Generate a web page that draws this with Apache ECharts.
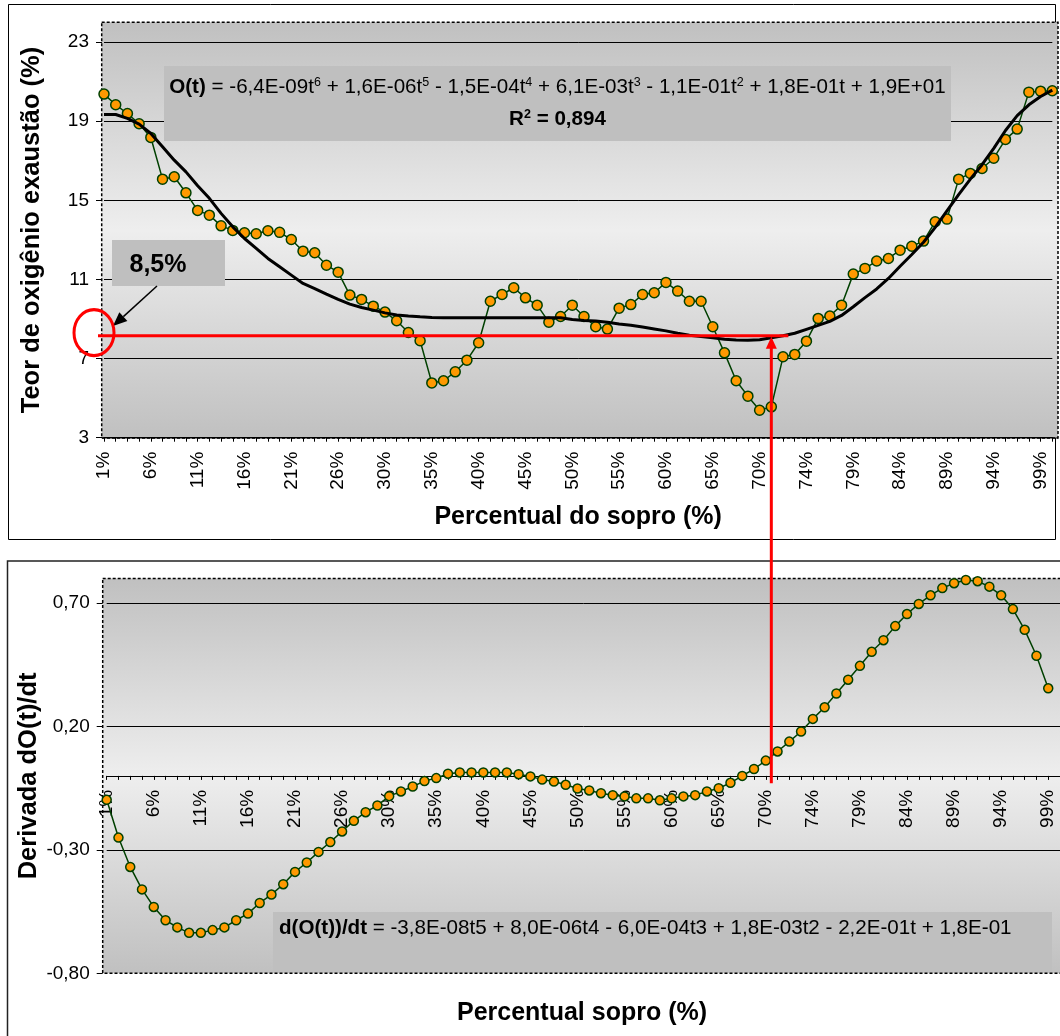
<!DOCTYPE html>
<html><head><meta charset="utf-8">
<script src="https://cdn.jsdelivr.net/npm/echarts@6/dist/echarts.min.js"></script>
<style>html,body{margin:0;padding:0;background:#fff;}#c{width:1060px;height:1036px;}</style>
</head><body><div id="c"></div>
<script>
// ---------- DATA ----------
const xTickLabels = ['1%','6%','11%','16%','21%','26%','30%','35%','40%','45%','50%','55%','60%','65%','70%','74%','79%','84%','89%','94%','99%'];

const oxygen = [20.37,19.83,19.39,18.87,18.18,16.07,16.19,15.38,14.49,14.25,
  13.71,13.48,13.36,13.31,13.46,13.38,13.02,12.43,12.35,11.72,
  11.37,10.21,9.99,9.65,9.35,8.91,8.32,7.90,5.77,5.88,
  6.33,6.92,7.80,9.90,10.24,10.58,10.07,9.70,8.84,9.13,
  9.70,9.13,8.61,8.49,9.55,9.73,10.24,10.33,10.85,10.41,
  9.90,9.90,8.61,7.29,5.88,5.10,4.39,4.56,7.09,7.21,
  7.88,9.03,9.15,9.70,11.27,11.56,11.93,12.06,12.48,12.68,
  12.94,13.92,14.05,16.07,16.36,16.61,17.13,18.08,18.60,20.47,
  20.52,20.54];

const trendO = [19.34,19.34,19.14,18.85,18.38,17.71,17.03,16.44,15.74,15.10,
  14.34,13.66,13.07,12.57,12.06,11.64,11.22,10.80,10.54,10.26,
  9.99,9.75,9.58,9.45,9.31,9.20,9.15,9.11,9.08,9.06,
  9.06,9.06,9.06,9.06,9.06,9.06,9.06,9.06,9.06,9.06,
  8.97,8.93,8.90,8.84,8.75,8.69,8.60,8.50,8.40,8.28,
  8.18,8.12,8.05,7.98,7.94,7.93,7.95,8.05,8.15,8.28,
  8.48,8.68,8.88,9.18,9.62,10.08,10.52,11.05,11.67,12.26,
  12.88,13.63,14.47,15.29,16.07,16.80,17.63,18.53,19.28,19.83,
  20.25,20.57];

const derivative = [-0.097,-0.250,-0.369,-0.460,-0.531,-0.585,-0.614,-0.636,-0.636,-0.625,
  -0.614,-0.585,-0.558,-0.515,-0.481,-0.439,-0.389,-0.351,-0.308,-0.268,
  -0.225,-0.182,-0.147,-0.120,-0.082,-0.063,-0.043,-0.021,-0.009,0.009,
  0.014,0.014,0.014,0.014,0.014,0.007,-0.002,-0.015,-0.023,-0.036,
  -0.051,-0.059,-0.070,-0.078,-0.083,-0.091,-0.091,-0.099,-0.091,-0.083,
  -0.078,-0.063,-0.050,-0.028,0.000,0.028,0.062,0.099,0.139,0.180,
  0.231,0.278,0.334,0.390,0.446,0.503,0.550,0.607,0.656,0.697,
  0.732,0.761,0.781,0.794,0.789,0.767,0.732,0.676,0.592,0.487,
  0.355];

const markIndex = 57;      // category where the red arrow rises
const markLevel = 8.16;    // level of the red horizontal line

// ---------- BUILD ----------
const FONT = '"Liberation Sans", Arial, sans-serif';
const categories = oxygen.map((v, i) => (i % 4 === 0 && xTickLabels[i / 4]) ? xTickLabels[i / 4] : '');

const G1 = {left: 104, top: 22.3, width: 948.3, height: 415.4};
const G2 = {left: 106.7, top: 578.5, width: 962.3, height: 394.8};
const Y2 = {min: -0.8, max: 0.8};
const zeroOffset2 = -G2.height * (0 - Y2.min) / (Y2.max - Y2.min);  // move bottom x axis to y = 0

const comma = (v, d) => v.toFixed(d).replace('.', ',');
const bgGrad = {type: 'linear', x: 0, y: 0, x2: 0, y2: 1, colorStops: [
  {offset: 0, color: '#c0c0c0'}, {offset: 0.5, color: '#eeeeee'}, {offset: 1, color: '#c0c0c0'}]};

function xAxisOf(gi, name, gap, offset) {
  return {
    type: 'category', gridIndex: gi, data: categories, boundaryGap: false, offset: offset,
    axisLine: {onZero: false, lineStyle: {color: '#000', width: 1}},
    axisTick: {show: true, interval: 0, length: 4, lineStyle: {color: '#000'}},
    axisLabel: {interval: 0, rotate: 90, margin: 14, fontSize: 19, color: '#000', fontFamily: FONT},
    splitLine: {show: false},
    name: name, nameLocation: 'middle', nameGap: gap, nameMoveOverlap: false,
    nameTextStyle: {fontSize: 25, fontWeight: 'bold', color: '#000', fontFamily: FONT}
  };
}
function yAxisOf(gi, min, max, interval, dec, offset, name, gap) {
  return {
    type: 'value', gridIndex: gi, min: min, max: max, interval: interval, offset: offset,
    axisLine: {show: false},
    axisTick: {show: true, length: 6, lineStyle: {color: '#000'}},
    axisLabel: {showMaxLabel: false, margin: 13, fontSize: 19, color: '#000', fontFamily: FONT,
      formatter: v => comma(v, dec)},
    splitLine: {show: true, showMinLine: false, showMaxLine: false, lineStyle: {color: '#000', width: 1}},
    name: name, nameLocation: 'middle', nameGap: gap, nameMoveOverlap: false,
    nameTextStyle: {fontSize: 25.5, fontWeight: 'bold', color: '#000', fontFamily: FONT}
  };
}
const pointSeries = (xi, data, size) => ({
  type: 'line', xAxisIndex: xi, yAxisIndex: xi, data: data,
  symbol: 'circle', symbolSize: size, showSymbol: true,
  lineStyle: {color: '#004000', width: 1.5},
  itemStyle: {color: '#ff9900', borderColor: '#004000', borderWidth: 1.5},
  z: 3, animation: false
});

const chart = echarts.init(document.getElementById('c'), null, {renderer: 'canvas', width: 1060, height: 1036});
chart.setOption({
  backgroundColor: '#ffffff',
  animation: false,
  textStyle: {fontFamily: FONT},
  grid: [G1, G2],
  xAxis: [xAxisOf(0, 'Percentual do sopro (%)', 67, 0), xAxisOf(1, '', 0, zeroOffset2)],
  yAxis: [yAxisOf(0, 3, 24, 4, 0, 2, 'Teor de oxigênio exaustão (%)', 57),
          yAxisOf(1, Y2.min, Y2.max, 0.5, 2, 4, 'Derivada dO(t)/dt', 61)],
  series: [
    pointSeries(0, oxygen, 10),
    {type: 'line', xAxisIndex: 0, yAxisIndex: 0, data: trendO, showSymbol: false, symbol: 'none',
     lineStyle: {color: '#000', width: 3}, z: 4, animation: false},
    pointSeries(1, derivative, 9)
  ]
});

// ---------- ANNOTATIONS ----------
const pTop = chart.convertToPixel({gridIndex: 0}, [markIndex, markLevel]);
const pBot = chart.convertToPixel({gridIndex: 1}, [markIndex, -0.03]);
const rx = pTop[0], ry = pTop[1];

const plot1 = {x: 101.7, y: 22.3, w: 1058 - 101.7, h: 438 - 22.3};
const plot2 = {x: 102.7, y: 578.5, w: 1100, h: 973.3 - 578.5};

// black arrow geometry
const a0 = [157, 286], a1 = [113, 326];
const dx = a1[0] - a0[0], dy = a1[1] - a0[1], L = Math.hypot(dx, dy);
const ux = dx / L, uy = dy / L, hl = 14, hw = 6;
const bc = [a1[0] - ux * hl, a1[1] - uy * hl];

const EQ = 20.6;
const sup = {fontSize: 12.5, verticalAlign: 'top', fill: '#000', fontFamily: FONT};
const bold = {fontWeight: 'bold', fontSize: EQ, fill: '#000', fontFamily: FONT};

chart.setOption({
  graphic: [
    // frames
    {type: 'rect', z: -20, silent: true, shape: {x: 8.5, y: 4.5, width: 1047, height: 535},
     style: {fill: '#fff', stroke: '#000', lineWidth: 1}},
    {type: 'rect', z: -20, silent: true, shape: {x: 7.5, y: 561, width: 1100, height: 520},
     style: {fill: '#fff', stroke: '#222', lineWidth: 1.5}},
    // plot backgrounds
    {type: 'rect', z: -10, silent: true, shape: {x: plot1.x, y: plot1.y, width: plot1.w, height: plot1.h},
     style: {fill: bgGrad}},
    {type: 'rect', z: -10, silent: true, shape: {x: plot2.x, y: plot2.y, width: plot2.w, height: plot2.h},
     style: {fill: bgGrad}},
    // dashed plot borders
    {type: 'rect', z: 1, silent: true, shape: {x: plot1.x, y: plot1.y, width: plot1.w, height: plot1.h},
     style: {fill: null, stroke: '#000', lineWidth: 1.5, lineDash: [3, 2]}},
    {type: 'rect', z: 1, silent: true, shape: {x: plot2.x, y: plot2.y, width: plot2.w, height: plot2.h},
     style: {fill: null, stroke: '#000', lineWidth: 1.5, lineDash: [3, 2]}},
    {type: 'line', z: 1, silent: true, shape: {x1: plot1.x, y1: 438, x2: 1058, y2: 438},
     style: {stroke: '#000', lineWidth: 1}},
    // top equation box
    {type: 'rect', z: 8, silent: true, shape: {x: 164, y: 66, width: 787, height: 75}, style: {fill: '#bfbfbf'}},
    {type: 'text', z: 9, silent: true, style: {
      x: 557.5, y: 87, align: 'center', verticalAlign: 'middle', fontSize: EQ, fontFamily: FONT, fill: '#000',
      text: '{b|O(t)} = -6,4E-09t{s|6} + 1,6E-06t{s|5} - 1,5E-04t{s|4} + 6,1E-03t{s|3} - 1,1E-01t{s|2} + 1,8E-01t + 1,9E+01',
      rich: {b: bold, s: sup}}},
    {type: 'text', z: 9, silent: true, style: {
      x: 557.5, y: 119, align: 'center', verticalAlign: 'middle', fontSize: EQ, fontFamily: FONT, fill: '#000',
      text: '{b|R}{bs|2}{b| = 0,894}',
      rich: {b: bold, bs: {fontSize: 12.5, fontWeight: 'bold', verticalAlign: 'top', fill: '#000', fontFamily: FONT}}}},
    // 8,5% box
    {type: 'rect', z: 8, silent: true, shape: {x: 112, y: 240, width: 113, height: 46}, style: {fill: '#bfbfbf'}},
    {type: 'text', z: 9, silent: true, style: {x: 158, y: 265, align: 'center', verticalAlign: 'middle',
      text: '8,5%', fontSize: 25, fontWeight: 'bold', fontFamily: FONT, fill: '#000'}},
    // black arrow
    {type: 'line', z: 9, silent: true, shape: {x1: a0[0], y1: a0[1], x2: bc[0], y2: bc[1]},
     style: {stroke: '#000', lineWidth: 1.5}},
    {type: 'polygon', z: 9, silent: true, shape: {points: [a1,
      [bc[0] - uy * hw, bc[1] + ux * hw], [bc[0] + uy * hw, bc[1] - ux * hw]]}, style: {fill: '#000'}},
    // red circle
    {type: 'circle', z: 10, silent: true, x: 94, y: ry - 3, scaleY: 1.15,
     shape: {cx: 0, cy: 0, r: 20}, style: {fill: null, stroke: '#ff0000', lineWidth: 3}},
    // red horizontal line
    {type: 'line', z: 10, silent: true, shape: {x1: 98, y1: ry, x2: rx + 17, y2: ry},
     style: {stroke: '#ff0000', lineWidth: 3}},
    // red vertical arrow
    {type: 'line', z: 10, silent: true, shape: {x1: rx, y1: ry + 10, x2: rx, y2: pBot[1]},
     style: {stroke: '#ff0000', lineWidth: 3}},
    {type: 'polygon', z: 10, silent: true, shape: {points: [[rx, ry + 1], [rx - 5.5, ry + 13], [rx + 5.5, ry + 13]]},
     style: {fill: '#ff0000'}},
    // bottom equation box
    {type: 'rect', z: 8, silent: true, shape: {x: 273, y: 912, width: 779, height: 60}, style: {fill: '#bfbfbf'}},
    {type: 'text', z: 9, silent: true, style: {
      x: 279, y: 928, align: 'left', verticalAlign: 'middle', fontSize: EQ, fontFamily: FONT, fill: '#000',
      text: '{b|d(O(t))/dt} = -3,8E-08t5 + 8,0E-06t4 - 6,0E-04t3 + 1,8E-03t2 - 2,2E-01t + 1,8E-01',
      rich: {b: bold}}},
    // bottom x title
    {type: 'text', z: 9, silent: true, style: {x: 582, y: 1013, align: 'center', verticalAlign: 'middle',
      text: 'Percentual sopro (%)', fontSize: 25, fontWeight: 'bold', fontFamily: FONT, fill: '#000'}}
  ]
});
</script></body></html>
